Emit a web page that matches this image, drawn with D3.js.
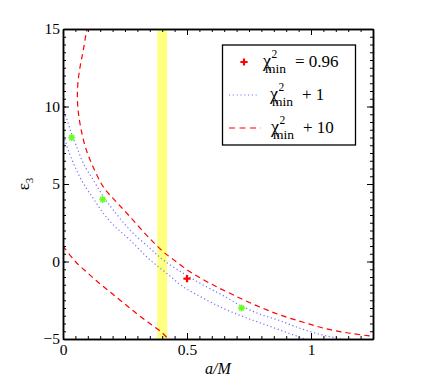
<!DOCTYPE html>
<html>
<head>
<meta charset="utf-8">
<script src="https://cdn.jsdelivr.net/npm/d3@7"></script>
<style>
  body { margin: 0; background: #fff; }
  svg, svg text { font-family: "Liberation Serif", "Times New Roman", serif; }
</style>
</head>
<body>
<div class="chart"></div>
<script>
const margin = { top: 29, right: 49, bottom: 43, left: 63 };
const width = 422 - margin.left - margin.right;
const height = 382 - margin.top - margin.bottom;

// data
const xTicks = [0, 0.5, 1];
const yTicks = [-5, 0, 5, 10, 15];
const band = [0.38, 0.42];
const bestFit = [{ a: 0.5, e: -1.1 }];
const greenPts = [
    { a: 0.035, e: 8 },
    { a: 0.16, e: 4 },
    { a: 0.72, e: -3 }
];
// chi2 + 10 contour, upper branch
const red10Upper = [
    [0.098, 15.2], [0.082, 13.65], [0.069, 12.57], [0.06, 11.5], [0.058, 10.5],
    [0.062, 9.6], [0.072, 8.6], [0.088, 7.5], [0.108, 6.6], [0.136, 5.6],
    [0.165, 4.75], [0.20, 4.1], [0.235, 3.5], [0.27, 2.89], [0.324, 1.92],
    [0.364, 1.25], [0.404, 0.63], [0.445, 0.12], [0.512, -0.66], [0.593, -1.41],
    [0.687, -2.16], [0.781, -2.85], [0.875, -3.45], [0.969, -3.92], [1.063, -4.35],
    [1.157, -4.63], [1.26, -4.85]
];
// chi2 + 10 contour, lower branch
const red10Lower = [
    [0, 1.0], [0.05, 0.0], [0.1, -0.75], [0.15, -1.45], [0.2, -2.1],
    [0.25, -2.75], [0.3, -3.4], [0.35, -4.0], [0.4, -4.6], [0.43, -5.1]
];
// chi2 + 1 contour, two branches
const blue1Upper = [
    [0, 9.9], [0.021, 8.92], [0.035, 8.2], [0.055, 7.41], [0.082, 6.33],
    [0.122, 5.26], [0.163, 4.18], [0.203, 3.32], [0.27, 2.03], [0.351, 0.85],
    [0.404, 0.10], [0.485, -0.76], [0.566, -1.52], [0.646, -2.2], [0.72, -2.88],
    [0.794, -3.4], [0.875, -3.82], [0.956, -4.31], [1.036, -4.70], [1.09, -4.89],
    [1.15, -5.1]
];
const blue1Lower = [
    [0, 8.1], [0.008, 7.84], [0.021, 7.19], [0.048, 6.12], [0.082, 5.04],
    [0.122, 4.07], [0.163, 3.11], [0.21, 2.25], [0.263, 1.5], [0.351, 0.10],
    [0.418, -0.76], [0.485, -1.63], [0.566, -2.37], [0.646, -3.02], [0.727, -3.56],
    [0.794, -3.95], [0.875, -4.42], [0.956, -4.89], [0.99, -5.1]
];
const legendLabels = ['= 0.96', '+ 1', '+ 10'];

const serif = '"Liberation Serif", "Times New Roman", serif';

const svg = d3.select('.chart')
    .append('svg')
        .attr('width', 422)
        .attr('height', 382)
        .style('font-family', serif);

const chart = svg.append('g')
    .attr('transform', `translate(${margin.left}, ${margin.top})`);

const xScale = d3.scaleLinear().domain([0, 1.25]).range([0, width]);
const yScale = d3.scaleLinear().domain([-5, 15]).range([height, 0]);

chart.append('clipPath').attr('id', 'plot-clip')
    .append('rect').attr('width', width).attr('height', height);

const plot = chart.append('g').attr('clip-path', 'url(#plot-clip)');

plot.append('rect')
    .attr('x', xScale(band[0]))
    .attr('y', 0)
    .attr('width', xScale(band[1]) - xScale(band[0]))
    .attr('height', height)
    .attr('fill', '#ffff80');

const line = d3.line()
    .x(d => xScale(d[0]))
    .y(d => yScale(d[1]))
    .curve(d3.curveCatmullRom);

[blue1Upper, blue1Lower].forEach(pts => {
    plot.append('path')
        .attr('d', line(pts))
        .attr('fill', 'none')
        .attr('stroke', '#6f6fff')
        .attr('stroke-width', 1.2)
        .attr('stroke-dasharray', '1.2,2.6');
});

[red10Upper, red10Lower].forEach(pts => {
    plot.append('path')
        .attr('d', line(pts))
        .attr('fill', 'none')
        .attr('stroke', '#ff0000')
        .attr('stroke-width', 1.2)
        .attr('stroke-dasharray', '5.5,4');
});

// green stars
function star(g, cx, cy, r, color) {
    [0, 45, 90, 135].forEach(ang => {
        const t = ang * Math.PI / 180;
        g.append('line')
            .attr('x1', cx - r * Math.cos(t)).attr('y1', cy - r * Math.sin(t))
            .attr('x2', cx + r * Math.cos(t)).attr('y2', cy + r * Math.sin(t))
            .attr('stroke', color).attr('stroke-width', 1.6);
    });
}
greenPts.forEach(d => {
    plot.append('circle')
        .attr('cx', xScale(d.a)).attr('cy', yScale(d.e)).attr('r', 2.2)
        .attr('fill', '#66ff22');
    star(plot, xScale(d.a), yScale(d.e), 3.5, '#66ff22');
});

function plus(g, cx, cy, r) {
    g.append('path')
        .attr('d', `M${cx - r},${cy}H${cx + r}M${cx},${cy - r}V${cy + r}`)
        .attr('stroke', '#ff0000')
        .attr('stroke-width', 2.2);
}
bestFit.forEach(d => plus(plot, xScale(d.a), yScale(d.e), 3.6));

// axes with inward ticks
const xMinor = d3.range(0, 1.2501, 0.05);
const yMinor = d3.range(-5, 15.001, 0.5);

function styleAxis(g) {
    g.attr('font-family', serif);
    g.select('.domain').attr('stroke', '#000').attr('stroke-width', 1.5);
    g.selectAll('.tick line').attr('stroke', '#000').attr('stroke-width', 1);
    g.selectAll('text')
        .style('font-family', serif)
        .style('font-size', '15.5px')
        .attr('fill', '#000');
}

chart.append('g').attr('transform', `translate(0, ${height})`)
    .call(d3.axisBottom(xScale).tickValues(xMinor).tickSize(-3).tickFormat('').tickSizeOuter(0))
    .call(styleAxis);
chart.append('g').attr('transform', `translate(0, ${height})`)
    .call(d3.axisBottom(xScale).tickValues(xTicks).tickSize(-6).tickPadding(5).tickFormat(d3.format('')).tickSizeOuter(0))
    .call(styleAxis);
chart.append('g')
    .call(d3.axisTop(xScale).tickValues(xMinor).tickSize(-3).tickFormat('').tickSizeOuter(0))
    .call(styleAxis);
chart.append('g')
    .call(d3.axisTop(xScale).tickValues(xTicks).tickSize(-6).tickFormat('').tickSizeOuter(0))
    .call(styleAxis);

chart.append('g')
    .call(d3.axisLeft(yScale).tickValues(yMinor).tickSize(-3).tickFormat('').tickSizeOuter(0))
    .call(styleAxis);
chart.append('g')
    .call(d3.axisLeft(yScale).tickValues(yTicks).tickSize(-6).tickPadding(3).tickFormat(d3.format('')).tickSizeOuter(0))
    .call(styleAxis);
chart.append('g').attr('transform', `translate(${width}, 0)`)
    .call(d3.axisRight(yScale).tickValues(yMinor).tickSize(-3).tickFormat('').tickSizeOuter(0))
    .call(styleAxis);
chart.append('g').attr('transform', `translate(${width}, 0)`)
    .call(d3.axisRight(yScale).tickValues(yTicks).tickSize(-6).tickFormat('').tickSizeOuter(0))
    .call(styleAxis);

// axis titles
svg.append('text')
    .attr('x', margin.left + width / 2)
    .attr('y', 374)
    .attr('text-anchor', 'middle')
    .style('font-size', '16px')
    .style('font-style', 'italic')
    .text('a/M');

const yTitle = svg.append('text')
    .attr('transform', `translate(29, ${margin.top + height / 2}) rotate(-90)`)
    .attr('text-anchor', 'middle')
    .style('font-size', '17px');
yTitle.append('tspan').text('ε');
yTitle.append('tspan').attr('dy', 4).style('font-size', '11px').text('3');

// legend
const legend = svg.append('g');
legend.append('rect')
    .attr('x', 222.5).attr('y', 45)
    .attr('width', 133).attr('height', 100)
    .attr('fill', '#fff')
    .attr('stroke', '#000')
    .attr('stroke-width', 1.3);

const legendRows = [
    { x: 263, y: 67, kind: 'plus' },
    { x: 270, y: 100, kind: 'dot' },
    { x: 271, y: 133, kind: 'dash' }
];

legendRows.forEach((r, i) => {
    const my = r.y - 5;
    if (r.kind === 'plus') plus(legend, 244, 62, 3.6);
    if (r.kind === 'dot') {
        legend.append('line')
            .attr('x1', 229).attr('x2', 259).attr('y1', my).attr('y2', my)
            .attr('stroke', '#7f7fff').attr('stroke-width', 1.2).attr('stroke-dasharray', '1.2,2.6');
    }
    if (r.kind === 'dash') {
        legend.append('line')
            .attr('x1', 229).attr('x2', 261).attr('y1', my).attr('y2', my)
            .attr('stroke', '#ff0000').attr('stroke-width', 1.2).attr('stroke-dasharray', '6,4.5');
    }
    const t = legend.append('text').attr('x', r.x).attr('y', r.y);
    t.append('tspan').style('font-size', '18px').text('χ');
    t.append('tspan').attr('x', r.x + 8.5).attr('y', r.y - 9).style('font-size', '11.5px').text('2');
    t.append('tspan').attr('x', r.x + 2).attr('y', r.y + 6).style('font-size', '13.5px').text('min');
    t.append('tspan').attr('x', r.x + 32).attr('y', r.y).style('font-size', '17px').text(legendLabels[i]);
});
</script>
</body>
</html>
